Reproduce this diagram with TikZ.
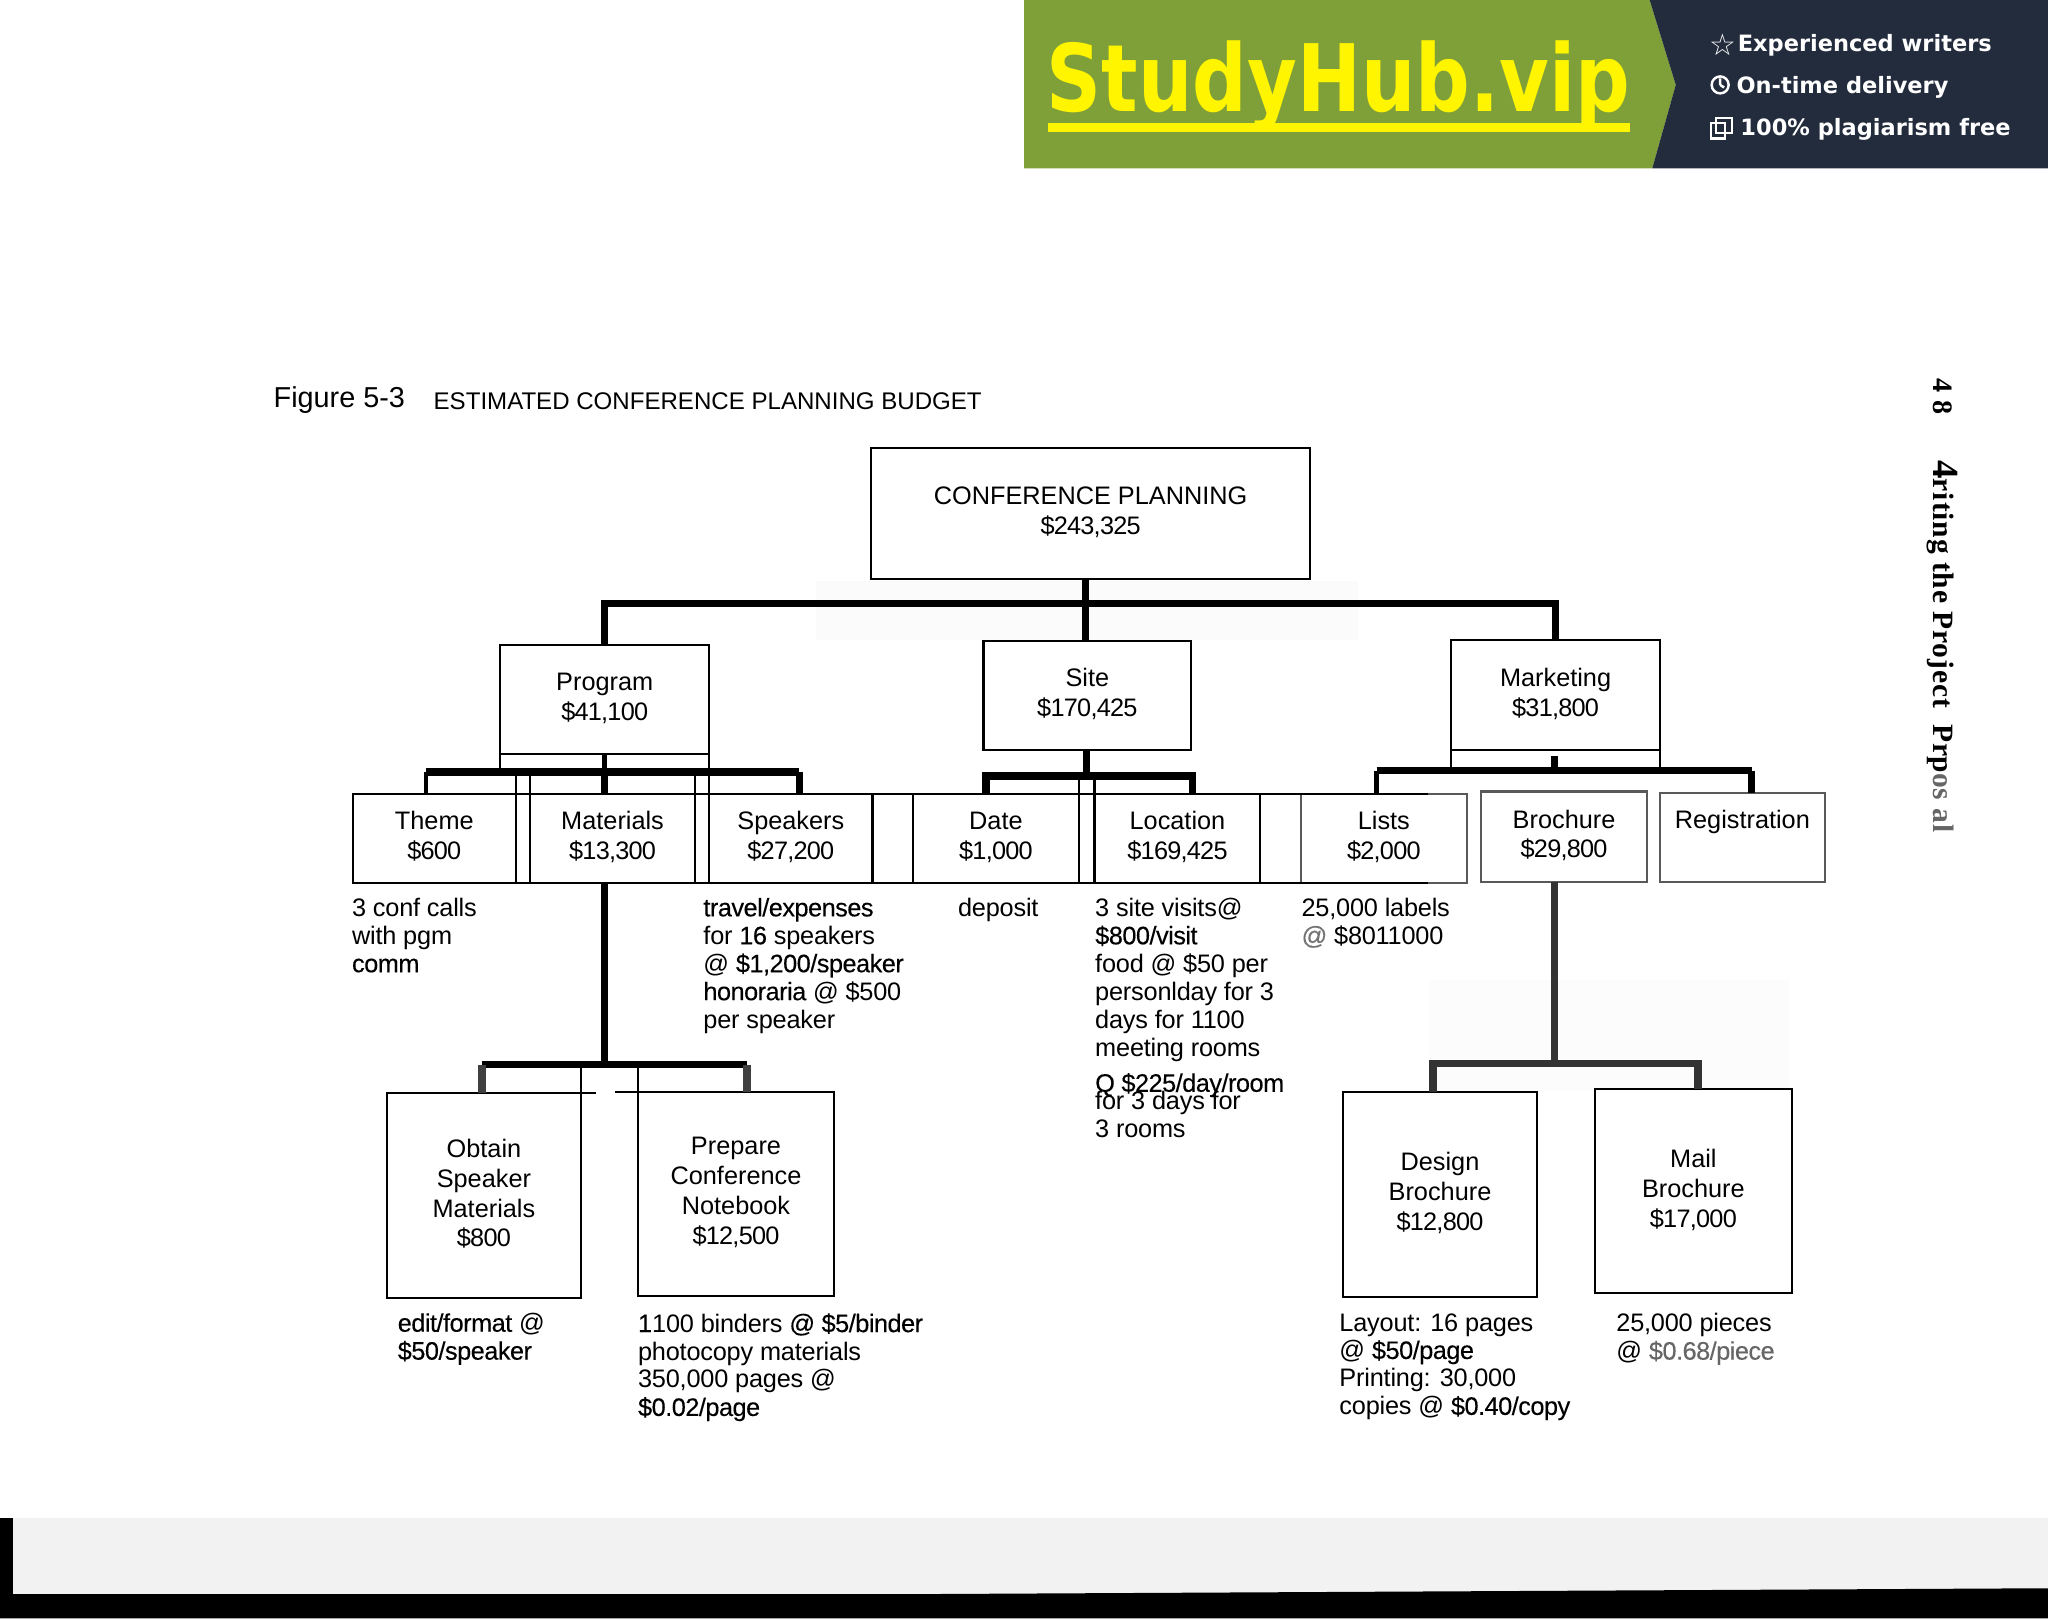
\documentclass[tikz,border=0pt]{standalone}
\usepackage{fontspec}
\setmainfont{Liberation Sans}
\newfontfamily\hvfont[FakeBold=0.25,LetterSpace=-2]{Liberation Sans}
\newfontfamily\notefont[LetterSpace=-0.8]{Liberation Sans}
\newfontfamily\amtfont[LetterSpace=-3]{Liberation Sans}
\newfontfamily\sidefont[LetterSpace=3]{Liberation Serif}
\newfontfamily\bannerfont{DejaVu Sans}
\newcommand{\hv}[1]{{\hvfont #1}}
\newcommand{\amt}[1]{{\amtfont #1}}
\newlength\ux
\setlength\ux{0.013061cm}
\tikzset{
	box/.style 2 args={draw,rectangle,line width=0.6pt,inner sep=0pt,outer sep=0pt,align=center,
		minimum width=#1*\ux,minimum height=#2*\ux,text depth=1.6pt,
		font=\fontsize{7.2}{8.5}\selectfont},
	greybox/.style={draw=black!65},
	note/.style={anchor=north west,inner sep=0pt,align=left,
		font=\notefont\fontsize{7.2}{7.95}\selectfont},
	bus/.style={line width=2.1pt},
	drop/.style={line width=1.3pt},
	rule/.style={line width=0.6pt},
	tagline/.style={anchor=west,inner sep=0pt,text=white,
		font=\bannerfont\bfseries\fontsize{6.4}{7}\selectfont},
}
\begin{document}
\begin{tikzpicture}[x=0.013061cm,y=-0.013061cm]
\useasboundingbox (0,0) rectangle (1568,1240.3);
%banner
\fill[fill={rgb,255:red,127;green,159;blue,56}] (784,0) -- (1263,0) -- (1283,65) -- (1265,129) -- (784,129) -- cycle;
\fill[fill={rgb,255:red,35;green,44;blue,61}] (1263,0) -- (1283,65) -- (1265,129) -- (1568,129) -- (1568,0) -- cycle;
\node[anchor=west,inner sep=0pt,text={rgb,255:red,255;green,245;blue,0},font=\bannerfont\bfseries\fontsize{26.5}{30}\selectfont] (hub) at (801,66) {\scalebox{0.82}[1]{StudyHub.vip}};
\fill[fill={rgb,255:red,255;green,245;blue,0}] (802,94) rectangle (1248,101);
\node[tagline,font=\bannerfont\bfseries\fontsize{8.5}{9}\selectfont] (starmark) at (1308,34) {☆};
\node[tagline] (tagA) at (1330,35) {Experienced writers};
\node[tagline] (tagB) at (1329,67) {On-time delivery};
\node[tagline] (tagC) at (1332,99) {100\% plagiarism free};
\draw[white,line width=0.7pt] (1317,65) circle(6.5) (1317,65) -- (1317,60) (1317,65) -- (1320,67);
\draw[white,line width=0.6pt] (1314,90) rectangle (1326,102) (1310,94) rectangle (1321,106);
%scan marks
\fill[black!1] (1095,750) rectangle (1370,835);
\fill[black!1.5] (625,445) rectangle (1040,490);
\fill[black!5] (10,1162) rectangle (1568,1221);
\fill[black] (0,1162) rectangle (10,1239);
\fill[black] (10,1220.5) -- (700,1220.5) -- (1568,1216) -- (1568,1239) -- (0,1239) -- cycle;
%title
\node[anchor=west,inner sep=0pt,font=\fontsize{8.2}{9}\selectfont] (figno) at (209,306.5) {Figure 5-3};
\node[anchor=west,inner sep=0pt,font=\fontsize{6.85}{8}\selectfont] (figtitle) at (331.5,307) {ESTIMATED CONFERENCE PLANNING BUDGET};
\node[anchor=base west,inner sep=0pt,rotate=-90,font=\sidefont\bfseries\fontsize{8}{9}\selectfont] (pageno) at (1480,289) {4 8};
\node[anchor=base west,inner sep=0pt,rotate=-90,font=\sidefont\bfseries\fontsize{8.4}{9}\selectfont] (runhead) at (1480,352) {{\fontsize{10.5}{11}\selectfont 4}riting the Project\ \ Pr\textcolor{black}{p}\textcolor{black!60}{os al}};
%top levels
\node[box={336}{100}] (conf) at (835,393) {CONFERENCE PLANNING\\\amt{\$243,325}};
\node[box={160}{83}] (prog) at (463,535.5) {Program\\\amt{\$41,100}};
\node[box={159}{83}] (site) at (832.5,532.5) {Site\\\amt{\$170,425}};
\node[box={160}{84}] (mark) at (1191,532) {Marketing\\\amt{\$31,800}};
%second row
\node[box={125}{68}] (theme) at (332.5,642) {Theme\\\amt{\$600}};
\node[box={126}{68}] (mats) at (469,642) {Materials\\\amt{\$13,300}};
\node[box={125}{68}] (spk) at (605.5,642) {Speakers\\\amt{\$27,200}};
\node[box={127}{68}] (date) at (762.5,642) {Date\\\amt{\$1,000}};
\node[box={127}{68}] (loc) at (901.5,642) {Location\\\amt{\$169,425}};
\node[box={127}{68},greybox] (lists) at (1059.5,642) {Lists\\\amt{\$2,000}};
\node[box={127}{69},greybox] (broch) at (1197.5,640.5) {Brochure\\\amt{\$29,800}};
\node[box={126}{68},greybox] (regist) at (1334,641) {Registration\\\phantom{\$}};
%third row
\node[box={149}{157}] (obtain) at (370.5,915.5) {Obtain\\Speaker\\Materials\\\amt{\$800}};
\node[box={150}{156}] (prep) at (563.5,914) {Prepare\\Conference\\Notebook\\\amt{\$12,500}};
\node[box={149}{157}] (design) at (1102.5,914.5) {Design\\Brochure\\\amt{\$12,800}};
\node[box={151}{156}] (mail) at (1296.5,912) {Mail\\Brochure\\\amt{\$17,000}};
%row lines
\coordinate (rowend) at (1093,608);
\draw[rule] (theme.north) -- (lists.north -| rowend);
\draw[rule] (theme.south) -- (lists.south -| rowend);
\coordinate (busA) at (831,462);
\coordinate (busB) at (463,591);
\coordinate (busBl) at (326,591);
\coordinate (busBr) at (612,591);
\coordinate (busC) at (832,594);
\coordinate (busCl) at (755,594);
\coordinate (busCr) at (913,594);
\coordinate (busD) at (1190,590);
\coordinate (busDl) at (1054,590);
\coordinate (busDr) at (1341,590);
\coordinate (stubD) at (1190,579);
\coordinate (busE) at (463,815);
\coordinate (busEl) at (369,815);
\coordinate (busEr) at (572,815);
\coordinate (busF) at (1190,814);
\coordinate (busFl) at (1097,814);
\coordinate (busFr) at (1300,814);
%strips between the boxes
\draw[rule] (prog.south west) -- (prog.south west |- busB);
\draw[rule] (prog.south east) -- (spk.south west);
\draw[rule] (theme.south east) -- (theme.south east |- busB);
\draw[rule] (mats.south west) -- (mats.south west |- busB);
\draw[rule] (mats.south east) -- (mats.south east |- busB);
\draw[rule] (date.south east) -- (date.south east |- busC);
\draw[rule] (loc.south west) -- (loc.south west |- busC);
\draw[rule] (mark.south west) -- (mark.south west |- busD);
\draw[rule] (mark.south east) -- (mark.south east |- busD);
\draw[rule] (obtain.south east) -- (obtain.south east |- busE);
\draw[rule] (prep.south west) -- (prep.south west |- busE);
\draw[rule] (obtain.north east) -- ++(11,0);
\draw[rule] (prep.north west) -- ++(-18,0);
%connectors
\draw[bus] (prog.north) |- (busA) -| (mark.north);
\draw[bus] (conf.south -| busA) -- (busA) -- (site.north -| busA);
\draw[bus] (busBl) -- (busBr);
\draw[drop] (prog.south -| busB) -- (busB);
\draw[bus] (busB) -- (mats.north -| busB);
\draw[drop] (busBl) -- (theme.north -| busBl);
\draw[bus] (busBr) -- (spk.north -| busBr);
\draw[bus] (site.south -| busC) -- (busC);
\draw[bus] (busCl |- date.north) -- (busCl) -- (busCr) -- (busCr |- loc.north);
\draw[bus] (busDl) -- (busDr);
\draw[drop] (busDl) -- (lists.north -| busDl);
\draw[bus] (busDr) -- (regist.north -| busDr);
\draw[bus] (stubD) -- (busD);
\draw[bus] (mats.south -| busE) -- (busE);
\draw[bus] (busEl) -- (busEr);
\draw[bus,black!75] (busEl) -- (obtain.north -| busEl);
\draw[bus,black!75] (busEr) -- (prep.north -| busEr);
\draw[bus,black!80] (broch.south -| busF) -- (busF);
\draw[bus,black!80] (busFl |- design.north) -- (busFl) -- (busFr) -- (busFr |- mail.north);
%notes
\node[note] (n1) at (269,687) {3 conf calls\\with pgm\\\hv{comm}};
\node[note] (n2) at (538,687) {\hv{travel/expenses}\\for \hv{16} speakers\\@ \hv{\$1,200/speaker}\\\hv{honoraria} @ \$500\\per speaker};
\node[note] (n3) at (733,687) {deposit};
\node[note] (n4) at (838,687) {3 site visits@\\\hv{\$800/visit}\\food @ \$50 per\\personlday for 3\\days for 1100\\meeting rooms};
\node[note] (n5) at (838,821) {\hv{Q \$225/day/room}};
\node[note] (n6) at (838,835) {for 3 days for\\3 rooms};
\node[note] (n7) at (996,687) {25,000 labels\\\textcolor{black!55}{\hv{@}} \$8011000};
\node[note] (n8) at (304,1005) {\hv{edit/format} @\\\hv{\$50/speaker}};
\node[note] (n9) at (488,1005) {\hv{1}100 binders \hv{@ \$5/binder}\\photocopy materials\\350,000 pages @\\\hv{\$0.02/page}};
\node[note] (n10) at (1025,1005) {Layout: 16 pages\\@ \hv{\$50/page}\\Printing: 30,000\\copies @ \hv{\$0.40/copy}};
\node[note] (n11) at (1237,1005) {25,000 pieces\\@ \textcolor{black!60}{\hv{\$0.68/piece}}};
\end{tikzpicture}
\end{document}
